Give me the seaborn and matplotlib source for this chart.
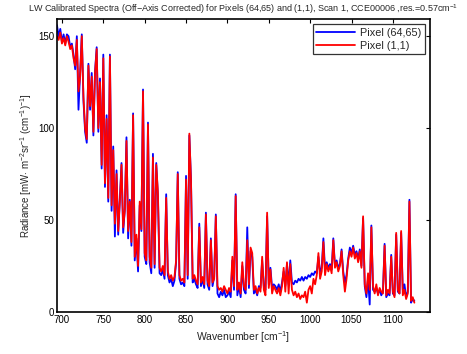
import numpy as np
import pandas as pd
import matplotlib
matplotlib.use('Agg')
import matplotlib.pyplot as plt
import seaborn as sns

# wavenumber grid [cm^-1], every 2 cm^-1
wavenumber = list(range(694, 1127, 2))

# Pixel (1,1) -- red
rad_red = [
    150, 148, 152, 146, 149, 145, 150, 147, 143, 145,   # 694-712
    138, 134, 148, 120, 128, 150, 117, 100, 94, 134,    # 714-732
    112, 128, 98, 130, 143, 100, 125, 80, 138, 70,      # 734-752
    105, 62, 139, 58, 88, 48, 75, 44, 60, 80,           # 754-772
    46, 55, 93, 44, 60, 38, 107, 30, 42, 25,            # 774-792
    60, 45, 120, 32, 28, 102, 30, 24, 84, 26,           # 794-812
    80, 65, 24, 22, 25, 20, 62, 22, 18, 20,             # 814-832
    17, 19, 28, 75, 20, 17, 18, 16, 72, 20,             # 834-852
    97, 71, 18, 20, 17, 15, 46, 16, 19, 15,             # 854-872
    53, 17, 14, 39, 16, 18, 52, 14, 12, 13,             # 874-892
    11, 14, 12, 10, 13, 11, 30, 14, 63, 12,             # 894-912
    16, 10, 27, 14, 12, 39, 15, 35, 32, 12,             # 914-932
    14, 10, 13, 11, 30, 12, 9, 54, 13, 23,              # 934-952
    10, 14, 12, 10, 13, 9, 14, 24, 11, 27,              # 954-972
    10, 26, 12, 9, 11, 8, 10, 7, 9, 8,                  # 974-992
    11, 5, 12, 14, 10, 18, 15, 20, 32, 18,              # 994-1012
    22, 38, 20, 26, 22, 25, 21, 39, 24, 27,             # 1014-1032
    22, 25, 33, 20, 11, 18, 28, 33, 30, 35,             # 1034-1052
    29, 32, 27, 33, 24, 52, 15, 10, 21, 12,             # 1054-1072
    46, 14, 10, 15, 9, 13, 11, 10, 36, 9,               # 1074-1092
    12, 10, 30, 11, 8, 43, 12, 10, 44, 9,               # 1094-1112
    12, 7, 10, 60, 6, 8, 5,                             # 1114-1126
]

# Pixel (64,65) -- blue
rad_blue = [
    156, 150, 154, 147, 151, 146, 151, 150, 144, 146,
    140, 132, 150, 110, 130, 151, 115, 98, 92, 135,
    110, 130, 96, 131, 144, 98, 127, 78, 140, 68,
    107, 60, 140, 55, 90, 41, 77, 42, 62, 81,
    43, 56, 95, 40, 61, 36, 108, 28, 40, 22,
    58, 44, 121, 30, 26, 103, 27, 21, 86, 24,
    81, 63, 21, 20, 23, 18, 64, 20, 16, 18,
    14, 17, 27, 76, 18, 15, 16, 14, 74, 18,
    96, 72, 16, 18, 15, 13, 48, 14, 18, 13,
    54, 15, 12, 40, 14, 19, 53, 10, 8, 11,
    9, 12, 8, 9, 11, 8, 28, 12, 64, 9,
    14, 8, 25, 12, 10, 46, 13, 33, 30, 10,
    12, 9, 14, 13, 28, 14, 12, 52, 15, 24,
    13, 15, 14, 12, 15, 11, 16, 22, 14, 26,
    15, 28, 16, 15, 17, 16, 18, 17, 19, 17,
    19, 18, 20, 19, 21, 20, 22, 21, 30, 22,
    24, 40, 23, 27, 24, 26, 23, 40, 25, 28,
    24, 26, 34, 22, 16, 20, 29, 35, 32, 36,
    31, 33, 29, 34, 25, 51, 14, 8, 18, 4,
    47, 12, 11, 13, 10, 12, 9, 11, 37, 8,
    10, 9, 31, 10, 9, 42, 11, 10, 43, 12,
    15, 8, 11, 61, 5, 7, 6,
]

labels = ['Pixel (64,65)', 'Pixel (1,1)']

df = pd.concat([
    pd.DataFrame({'wn': wavenumber, 'rad': rad_blue, 'pix': labels[0]}),
    pd.DataFrame({'wn': wavenumber, 'rad': rad_red, 'pix': labels[1]}),
])

sns.set_style('white')
plt.rcParams['font.family'] = ['Liberation Sans', 'DejaVu Sans']
plt.rcParams['mathtext.fontset'] = 'custom'
plt.rcParams['mathtext.rm'] = 'Liberation Sans'
plt.rcParams['mathtext.it'] = 'Liberation Sans:italic'

fig = plt.figure(figsize=(4.67, 3.54), dpi=100)
ax = fig.add_axes([0.122, 0.119, 0.799, 0.828])

sns.lineplot(data=df, x='wn', y='rad', hue='pix', hue_order=labels,
             palette={labels[0]: '#0000FF', labels[1]: '#FF0000'},
             linewidth=1.3, estimator=None, sort=False, ax=ax)

ax.set_xlim(694, 1145)
ax.set_ylim(0, 159.5)
ax.set_xticks(range(700, 1101, 50))
ax.set_yticks([0, 50, 100, 150])
ax.tick_params(direction='in', length=3, width=0.8, labelsize=7, colors='black',
               top=True, right=True, pad=2)
for s in ax.spines.values():
    s.set_color('black')
    s.set_linewidth(1.2)

ax.set_xlabel('Wavenumber [cm$^{-1}$]', fontsize=7.5, labelpad=3)
ax.set_ylabel('Radiance [mW$\\cdot$ m$^{-2}$sr$^{-1}$ (cm$^{-1}$)$^{-1}$]', fontsize=7, labelpad=3)
ax.set_title('LW Calibrated Spectra (Off\u2212Axis Corrected) for Pixels (64,65) and (1,1), '
             'Scan 1, CCE00006 ,res.=0.57cm$^{-1}$', fontsize=6.5, pad=5)

leg = ax.legend(loc='upper right', fontsize=7.8, frameon=True, fancybox=False,
                handlelength=3.6, borderaxespad=0.5, borderpad=0.35, labelspacing=0.25,
                handletextpad=0.4)
leg.get_frame().set_edgecolor('black')
leg.get_frame().set_linewidth(0.9)

fig.savefig('out.png', dpi=100)
